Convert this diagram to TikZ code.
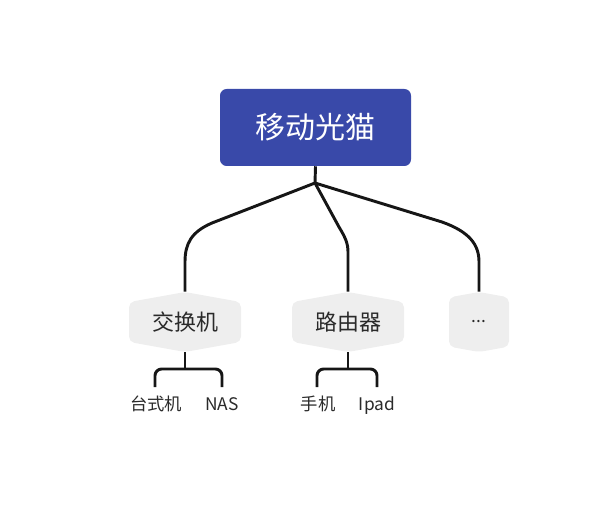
\documentclass[tikz,border=0pt]{standalone}
\usepackage{fontspec}
\setmainfont{Noto Sans CJK SC}
\usetikzlibrary{calc}
\definecolor{rootblue}{HTML}{3949A9}
\definecolor{hexgray}{HTML}{EEEEEE}
\definecolor{linec}{HTML}{161616}
\definecolor{txt}{HTML}{2A2A2A}
\tikzset{
  conn/.style={draw=linec, line width=2.2pt},
  hexnode/.style={inner sep=0pt, text=txt, font=\fontsize{16.5}{18}\selectfont},
  leaf/.style={inner sep=0pt, anchor=base, text=txt, font=\fontsize{13}{15}\selectfont},
}
\newcommand{\hexshape}[2]{% name, halfwidth
  \fill[hexgray, rounded corners=4pt]
    ($(#1.center)+(0,-30)$) -- ($(#1.center)+(-#2,-30+0.18*#2)$) -- ($(#1.center)+(-#2,30-0.18*#2)$)
    -- ($(#1.center)+(0,30)$) -- ($(#1.center)+(#2,30-0.18*#2)$) -- ($(#1.center)+(#2,-30+0.18*#2)$) -- cycle;}
\begin{document}
\begin{tikzpicture}[x=0.75pt,y=-0.75pt]
\useasboundingbox (0,0) rectangle (598,527);
% root
\fill[rootblue, rounded corners=5pt] (220,89) rectangle (411,166);
\node[text=white, font=\fontsize{22.5}{26}\selectfont, inner sep=0pt, minimum width=191*0.75pt, minimum height=77*0.75pt] (root) at (315.5,127.5) {移动光猫};
% hexagon nodes
\node[hexnode, minimum width=112*0.75pt, minimum height=60*0.75pt] (sw) at (185,322) {};
\node[hexnode, minimum width=112*0.75pt, minimum height=60*0.75pt] (rt) at (348,322) {};
\node[hexnode, minimum width=60*0.75pt, minimum height=60*0.75pt] (more) at (479,322) {};
\hexshape{sw}{56}
\hexshape{rt}{56}
\hexshape{more}{30}
\node[hexnode] at (sw.center) {交换机};
\node[hexnode] at (rt.center) {路由器};
\node[hexnode, font=\fontsize{13}{15}\selectfont] at (more.center) {...};
% branches
\coordinate (fork) at (315,183);
\draw[conn] (root.south) -- (fork);
\draw[conn, line join=round] (fork) -- (212,223) .. controls (191,232) and (185,244) .. (185,262) -- (sw.north);
\draw[conn, line join=round] (fork) -- (339,227) .. controls (345,237) and (348,243) .. (348,252) -- (rt.north);
\draw[conn, line join=round] (fork) -- (442,222) .. controls (470,232) and (479,245) .. (479,262) -- (more.north);
% leaves
\node[leaf] (pc) at (156,410) {台式机};
\node[leaf] (nas) at (222,410) {NAS};
\node[leaf] (ph) at (318,410) {手机};
\node[leaf] (ipad) at (377,410) {Ipad};
\coordinate (swj) at (185,369);
\coordinate (rtj) at (348,369);
\draw[conn] (sw.south) -- (swj);
\draw[conn, rounded corners=5pt] (155,387) -- (155,369) -- (222,369) -- (222,387);
\draw[conn] (rt.south) -- (rtj);
\draw[conn, rounded corners=5pt] (317,387) -- (317,369) -- (377,369) -- (377,387);
\end{tikzpicture}
\end{document}
